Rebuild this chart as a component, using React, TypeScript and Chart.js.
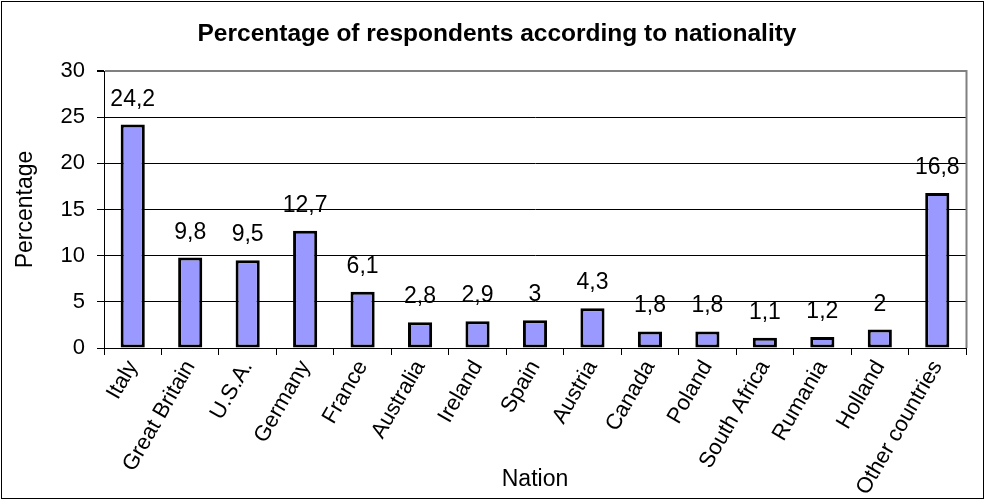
import React, { useEffect, useRef } from "react";
import { Chart, registerables } from "chart.js";

Chart.register(...registerables);

const categories = [
  "Italy",
  "Great Britain",
  "U.S.A.",
  "Germany",
  "France",
  "Australia",
  "Ireland",
  "Spain",
  "Austria",
  "Canada",
  "Poland",
  "South Africa",
  "Rumania",
  "Holland",
  "Other countries",
];
const percentages = [24.2, 9.8, 9.5, 12.7, 6.1, 2.8, 2.9, 3, 4.3, 1.8, 1.8, 1.1, 1.2, 2, 16.8];
const yTicks = [0, 5, 10, 15, 20, 25, 30];
const chartTitle = "Percentage of respondents according to nationality";
const xTitle = "Nation";
const yTitle = "Percentage";

const FONT = '"Liberation Sans", Arial, sans-serif';

function drawText(ctx: any, text: string, x: number, y: number, font: string, rot = 0) {
  ctx.save();
  ctx.translate(x, y);
  if (rot) ctx.rotate(rot);
  ctx.font = font;
  ctx.textAlign = "center";
  ctx.textBaseline = "alphabetic";
  ctx.fillStyle = "#000";
  ctx.fillText(text, 0, 0);
  ctx.restore();
}

const decor = {
  id: "decor",
  beforeDraw(chart: any) {
    const { ctx, width, height } = chart;
    ctx.save();
    ctx.fillStyle = "#fff";
    ctx.fillRect(0, 0, width, height);
    ctx.restore();
  },
  afterDraw(chart: any) {
    const { ctx, chartArea } = chart;
    ctx.save();
    ctx.strokeStyle = "#000";
    ctx.lineWidth = 1;
    ctx.strokeRect(1.5, 1.5, 982, 497);
    ctx.strokeStyle = "#808080";
    ctx.lineWidth = 2;
    ctx.beginPath();
    ctx.moveTo(chartArea.right + 0.5, chartArea.top - 1);
    ctx.lineTo(chartArea.right + 0.5, chartArea.bottom);
    ctx.stroke();
    ctx.restore();

    drawText(ctx, chartTitle, 497, 41, `bold 24.5px ${FONT}`);
    drawText(ctx, xTitle, (chartArea.left + chartArea.right) / 2, 486, `23px ${FONT}`);
    drawText(ctx, yTitle, 32, (chartArea.top + chartArea.bottom) / 2, `23px ${FONT}`, -Math.PI / 2);

    const meta = chart.getDatasetMeta(0);
    meta.data.forEach((bar: any, i: number) => {
      const label = String(percentages[i]).replace(".", ",");
      drawText(ctx, label, bar.x, bar.y - 19, `23px ${FONT}`);
    });
  },
};

export default function App() {
  const ref = useRef<HTMLCanvasElement | null>(null);
  useEffect(() => {
    if (!ref.current) return;
    const chart = new Chart(ref.current, {
      type: "bar",
      data: {
        labels: categories,
        datasets: [
          {
            data: percentages,
            backgroundColor: "#9999FF",
            borderColor: "#000000",
            borderWidth: 3,
            borderSkipped: false,
            barPercentage: 0.42,
            categoryPercentage: 1,
          },
        ],
      },
      options: {
        animation: false,
        responsive: false,
        events: [],
        layout: { padding: { top: 71, right: 19, bottom: 0, left: 0 } },
        plugins: {
          legend: { display: false },
          tooltip: { enabled: false },
          title: { display: false },
        },
        scales: {
          x: {
            offset: true,
            grid: {
              display: true,
              drawOnChartArea: false,
              drawTicks: true,
              tickLength: 7,
              color: "#000",
              offset: true,
            },
            border: { display: true, color: "#000", width: 1 },
            ticks: {
              font: { size: 22, family: FONT },
              color: "#000",
              minRotation: 60,
              maxRotation: 60,
              autoSkip: false,
              padding: 1,
            },
            afterFit(s: any) {
              s.height = 152;
            },
          },
          y: {
            min: 0,
            max: 30,
            afterBuildTicks(s: any) {
              s.ticks = yTicks.map((v) => ({ value: v }));
            },
            grid: {
              color: (c: any) => (c.tick && c.tick.value === 30 ? "#808080" : "#000"),
              lineWidth: (c: any) => (c.tick && c.tick.value === 30 ? 2 : 1),
              tickColor: "#000",
              tickLength: 7,
              drawTicks: true,
            },
            border: { display: true, color: "#000", width: 1 },
            ticks: {
              font: { size: 22, family: FONT },
              color: "#000",
              padding: 12,
            },
            afterFit(s: any) {
              s.width = 104;
            },
          },
        },
      },
      plugins: [decor],
    });
    return () => chart.destroy();
  }, []);
  return (
    <div style={{ position: "absolute", left: 0, top: 0, width: 985, height: 500 }}>
      <canvas ref={ref} width={985} height={500} />
    </div>
  );
}
